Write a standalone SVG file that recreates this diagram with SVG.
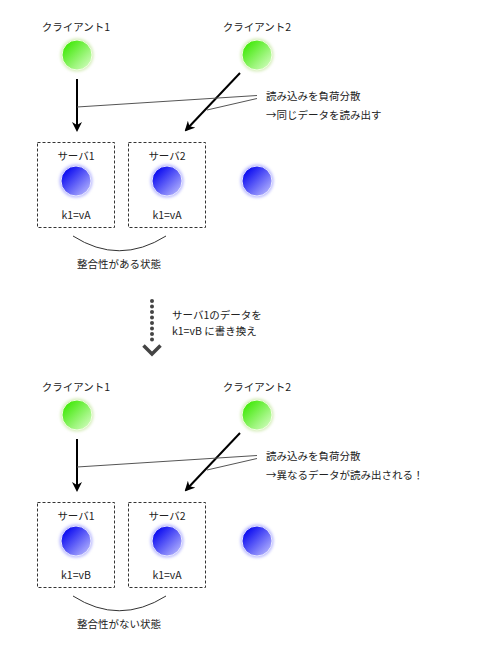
<svg xmlns="http://www.w3.org/2000/svg" width="500" height="646" viewBox="0 0 500 646">
<style>
text{font-family:"Noto Sans CJK JP","Liberation Sans",sans-serif;font-size:10.5px;fill:#222}
.c{text-anchor:middle}
.box{fill:none;stroke:#333;stroke-width:1;stroke-dasharray:3,2}
.arr{stroke:#000;stroke-width:2;fill:none}
.thin{stroke:#555;stroke-width:1;fill:none}
.arc{stroke:#333;stroke-width:1;fill:none}
.dot{fill:#444}
</style>
<defs>
<linearGradient id="gg" x1="0" y1="0" x2="1" y2="1">
<stop offset="0.1" stop-color="#3ae800"/>
<stop offset="1" stop-color="#e0ffd0"/>
</linearGradient>
<linearGradient id="bg" x1="0" y1="0" x2="1" y2="1">
<stop offset="0.1" stop-color="#0000f0"/>
<stop offset="1" stop-color="#c8c8ff"/>
</linearGradient>
<filter id="glow" x="-50%" y="-50%" width="200%" height="200%">
<feGaussianBlur stdDeviation="1.6"/>
</filter>
<marker id="ah" markerWidth="10" markerHeight="10" refX="8" refY="5" orient="auto" markerUnits="userSpaceOnUse">
<path d="M0,0 L10,5 L0,10 L3,5 Z" fill="#000"/>
</marker>
<g id="green">
<circle r="16.5" fill="#d4ecb8" filter="url(#glow)"/>
<circle r="15" fill="url(#gg)" stroke="#f0ffe0" stroke-width="1"/>
</g>
<g id="blue">
<circle r="16.5" fill="#b8b8ff" filter="url(#glow)"/>
<circle r="15" fill="url(#bg)" stroke="#e8e8ff" stroke-width="1"/>
</g>
</defs>

<!-- top section -->
<g id="client1-top"><text class="c" x="76" y="31">クライアント1</text><use href="#green" x="77" y="55"/></g>
<g id="client2-top"><text class="c" x="257" y="31">クライアント2</text><use href="#green" x="257" y="55"/></g>
<g id="server1-top"><rect class="box" x="37.5" y="142.5" width="77" height="85"/><text class="c" x="76" y="160">サーバ1</text><use href="#blue" x="76" y="181"/><text class="c" x="76" y="219">k1=vA</text></g>
<g id="server2-top"><rect class="box" x="128.5" y="142.5" width="77" height="85"/><text class="c" x="167" y="160">サーバ2</text><use href="#blue" x="167" y="181"/><text class="c" x="167" y="219">k1=vA</text></g>
<g id="server3-top"><use href="#blue" x="257" y="181"/></g>
<g id="note-top"><text x="266" y="100">読み込みを負荷分散</text><text x="266" y="119">→同じデータを読み出す</text></g>
<g id="state-top"><text class="c" x="119" y="268">整合性がある状態</text></g>

<!-- transition -->
<g id="transition">
<circle class="dot" cx="152" cy="301" r="2"/><circle class="dot" cx="152" cy="306.5" r="2"/><circle class="dot" cx="152" cy="312" r="2"/><circle class="dot" cx="152" cy="317.5" r="2"/><circle class="dot" cx="152" cy="323" r="2"/><circle class="dot" cx="152" cy="328.5" r="2"/><circle class="dot" cx="152" cy="334" r="2"/><circle class="dot" cx="152" cy="339.5" r="2"/>
<path d="M143.5,345.5 L152,354 L160.5,345.5" stroke="#444" stroke-width="3.5" fill="none"/>
<text x="172" y="319">サーバ1のデータを</text><text x="172" y="335">k1=vB に書き換え</text>
</g>

<!-- bottom section -->
<g id="client1-bottom"><text class="c" x="76" y="391">クライアント1</text><use href="#green" x="77" y="415"/></g>
<g id="client2-bottom"><text class="c" x="257" y="391">クライアント2</text><use href="#green" x="257" y="415"/></g>
<g id="server1-bottom"><rect class="box" x="37.5" y="502.5" width="77" height="85"/><text class="c" x="76" y="520">サーバ1</text><use href="#blue" x="76" y="541"/><text class="c" x="76" y="579">k1=vB</text></g>
<g id="server2-bottom"><rect class="box" x="128.5" y="502.5" width="77" height="85"/><text class="c" x="167" y="520">サーバ2</text><use href="#blue" x="167" y="541"/><text class="c" x="167" y="579">k1=vA</text></g>
<g id="server3-bottom"><use href="#blue" x="257" y="541"/></g>
<g id="note-bottom"><text x="266" y="460">読み込みを負荷分散</text><text x="266" y="479">→異なるデータが読み出される！</text></g>
<g id="state-bottom"><text class="c" x="119" y="628">整合性がない状態</text></g>

<g id="connectors">
<line class="arr" x1="77" y1="79" x2="77" y2="130" marker-end="url(#ah)"/>
<line class="arr" x1="240" y1="73" x2="186" y2="130" marker-end="url(#ah)"/>
<line class="thin" x1="257" y1="95.5" x2="77" y2="107"/>
<line class="thin" x1="257" y1="98.5" x2="207" y2="110"/>
<path class="arc" d="M73,236 Q119,265.5 166,236"/>
<line class="arr" x1="77" y1="439" x2="77" y2="490" marker-end="url(#ah)"/>
<line class="arr" x1="240" y1="433" x2="186" y2="490" marker-end="url(#ah)"/>
<line class="thin" x1="257" y1="455.5" x2="77" y2="467"/>
<line class="thin" x1="257" y1="458.5" x2="207" y2="470"/>
<path class="arc" d="M73,596 Q119,625.5 166,596"/>
</g>
</svg>
